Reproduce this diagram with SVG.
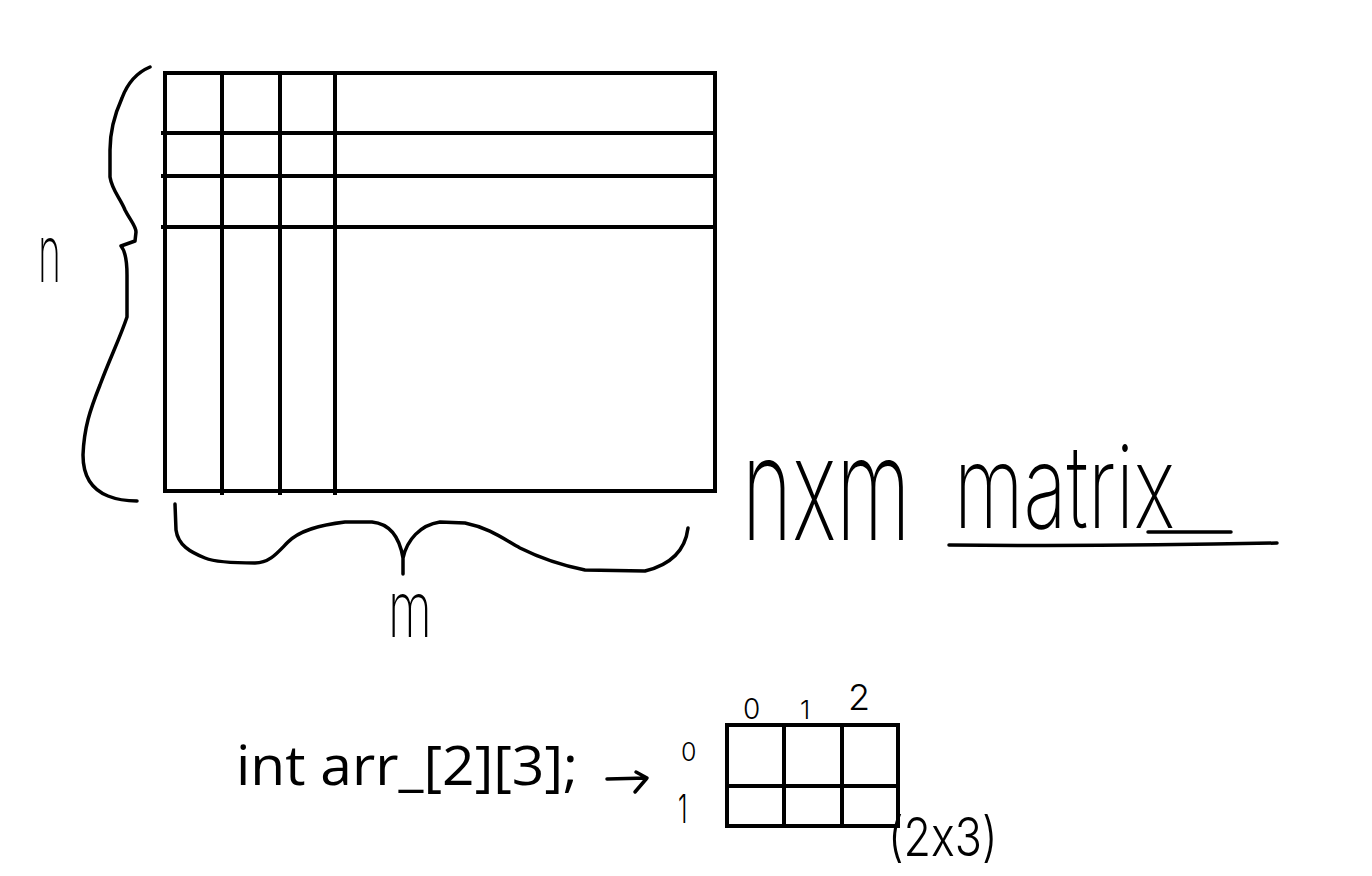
<svg xmlns="http://www.w3.org/2000/svg" width="1372" height="876" viewBox="0 0 1372 876">
<style>
.ln{stroke:#000;stroke-width:4;fill:none;stroke-linecap:square}
.hd{stroke:#000;stroke-width:3.5;fill:none;stroke-linecap:round;stroke-linejoin:round}
.hw{font-family:Inter,"DejaVu Sans",sans-serif;font-weight:200;fill:#000;font-feature-settings:"calt" 0;font-variant-ligatures:none}
.sm{font-weight:300}
.ty{font-family:"Open Sans","Liberation Sans",sans-serif;fill:#000}
</style>
<rect width="1372" height="876" fill="#fff"/>
<g id="big-matrix">
<rect class="ln" x="165" y="73" width="550" height="418"/>
<line class="ln" x1="163" y1="133" x2="715" y2="133"/>
<line class="ln" x1="163" y1="176" x2="715" y2="176"/>
<line class="ln" x1="163" y1="227" x2="715" y2="227"/>
<line class="ln" x1="222" y1="73" x2="222" y2="493"/>
<line class="ln" x1="280" y1="73" x2="280" y2="493"/>
<line class="ln" x1="335" y1="73" x2="335" y2="493"/>
</g>
<g id="left-brace">
<path class="hd" d="M150,67 C138,72 128,82 122,98 C113,118 110,135 110,150 L110,177 C112,190 120,198 125,210 C130,220 136,226 136,232 L135,241 L121,246 C126,252 127,262 127,275 L127,317 C120,338 110,358 100,385 C90,410 84,428 83,455 C83,478 93,490 108,496 C118,500 126,501 137,501"/>
<text class="hw" transform="translate(38,282) scale(0.7,1.45)" font-size="56">n</text>
</g>
<g id="bottom-brace">
<path class="hd" d="M175,504 L176,530 C178,545 190,552 205,558 C215,562 230,563 255,563 C270,563 278,552 288,542 C300,530 320,525 345,522 L372,522 C392,524 400,540 403,558 L403,574 M403,558 C407,540 420,525 440,522 L465,523 C490,528 505,540 520,548 C540,558 560,565 585,570 L645,571 C670,565 685,552 688,528"/>
<text class="hw" transform="translate(388,637) scale(0.9,1.4)" font-size="56">m</text>
</g>
<g id="title">
<text class="hw" transform="translate(742,540) scale(0.95,1.6)" font-size="90">nxm</text>
<text class="hw" transform="translate(954,528) scale(1,1.45)" font-size="80">matrix</text>
<line class="hd" x1="1148" y1="532" x2="1231" y2="532"/>
<path class="hd" d="M949,545 C1050,546 1180,545 1277,543"/>
</g>
<g id="declaration">
<text class="ty" x="236" y="785" font-size="54" textLength="342" lengthAdjust="spacingAndGlyphs">int arr_[2][3];</text>
<path class="hd" stroke-width="4" d="M607,779 L647,778 M636,772 L647,778 L635,792"/>
</g>
<g id="small-matrix">
<rect class="ln" x="727" y="725" width="171" height="101"/>
<line class="ln" x1="727" y1="786" x2="898" y2="786"/>
<line class="ln" x1="784" y1="725" x2="784" y2="826"/>
<line class="ln" x1="842" y1="725" x2="842" y2="826"/>
<text class="hw sm" x="743" y="719" font-size="28">0</text>
<text class="hw sm" x="800" y="719" font-size="26">1</text>
<text class="hw sm" x="848" y="710" font-size="36">2</text>
<text class="hw sm" x="681" y="761" font-size="25">0</text>
<text class="hw sm" transform="translate(678,823) scale(0.8,1.3)" font-size="30">1</text>
<text class="hw sm" transform="translate(888,856) scale(1.12,1.35)" font-size="40">(2x3)</text>
</g>
</svg>
